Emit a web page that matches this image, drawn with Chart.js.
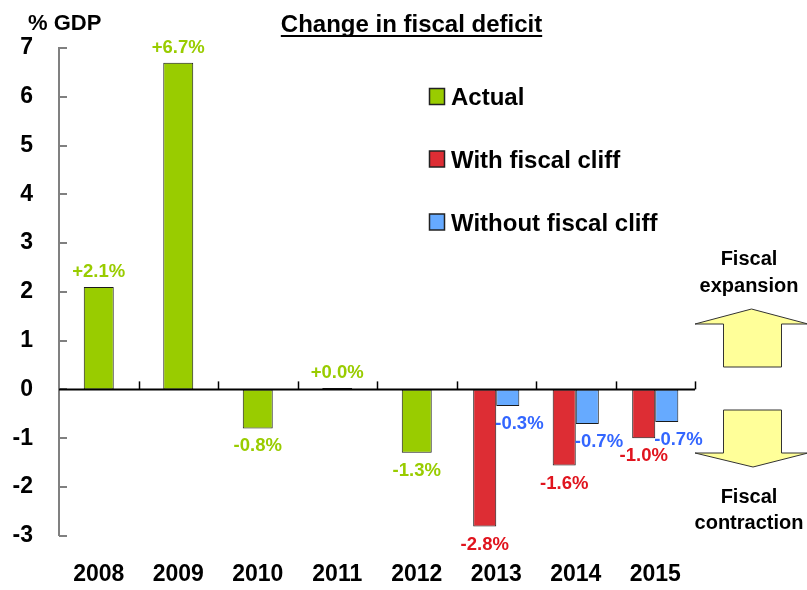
<!DOCTYPE html>
<html>
<head>
<meta charset="utf-8">
<title>Change in fiscal deficit</title>
<script src="https://cdn.jsdelivr.net/npm/chart.js@4/dist/chart.umd.min.js"></script>
<style>
    html, body { margin: 0; padding: 0; background: #ffffff; }
    #wrap { width: 807px; height: 590px; }
</style>
</head>
<body>
<div id="wrap"><canvas id="deficitChart" width="807" height="590"></canvas></div>
<script>
// Change in fiscal deficit, % of GDP
const years = ['2008', '2009', '2010', '2011', '2012', '2013', '2014', '2015'];
const actual = [2.1, 6.7, -0.8, 0.03, -1.3, null, null, null];
const withCliff = [null, null, null, null, null, -2.81, -1.56, -1.0];
const withoutCliff = [null, null, null, null, null, -0.34, -0.71, -0.67];
const yTicks = [7, 6, 5, 4, 3, 2, 1, 0, -1, -2, -3];
const seriesNames = ['Actual', 'With fiscal cliff', 'Without fiscal cliff'];

const FONT = '"Liberation Sans", Arial, Helvetica, sans-serif';

// label colours per dataset (text is a bit darker than the bars)
const labelColors = ['#99cc00', '#e0141e', '#3366ff'];

function fmt(v) {
    return (v >= 0 ? '+' : '') + v.toFixed(1) + '%';
}

// Zero line, tick marks and value labels
const decorPlugin = {
    id: 'decor',
    afterDatasetsDraw(chart) {
        const ctx = chart.ctx;
        const xs = chart.scales.x;
        const ys = chart.scales.y;
        const area = chart.chartArea;
        const y0 = ys.getPixelForValue(0);
        ctx.save();

        // y ticks pointing into the plot
        ctx.strokeStyle = '#808080';
        ctx.lineWidth = 2;
        yTicks.forEach(v => {
            const py = Math.round(ys.getPixelForValue(v));
            ctx.beginPath();
            ctx.moveTo(area.left, py);
            ctx.lineTo(area.left + 8, py);
            ctx.stroke();
        });

        // zero line
        ctx.strokeStyle = '#000000';
        ctx.lineWidth = 2;
        ctx.beginPath();
        ctx.moveTo(area.left, y0);
        ctx.lineTo(area.right, y0);
        ctx.stroke();

        // category dividers, small ticks up from the zero line
        const step = xs.getPixelForValue(1) - xs.getPixelForValue(0);
        ctx.lineWidth = 1.5;
        for (let i = 1; i <= years.length; i++) {
            const px = Math.round(xs.getPixelForValue(i) - step / 2) + 0.5;
            ctx.beginPath();
            ctx.moveTo(px, y0);
            ctx.lineTo(px, y0 - 8);
            ctx.stroke();
        }

        // value labels
        ctx.font = 'bold 18.5px ' + FONT;
        ctx.textBaseline = 'middle';
        chart.data.datasets.forEach((ds, di) => {
            const meta = chart.getDatasetMeta(di);
            meta.data.forEach((bar, i) => {
                const v = ds.data[i];
                if (v === null || v === undefined) return;
                ctx.fillStyle = labelColors[di];
                let tx = bar.x;
                ctx.textAlign = 'center';
                if (di === 2) {
                    // blue labels hang to the right of their bar
                    ctx.textAlign = 'left';
                    tx = bar.x - bar.width / 2 - 1;
                }
                const ty = v >= 0 ? bar.y - 15 : bar.y + 18;
                ctx.fillText(fmt(v), tx, ty);
            });
        });
        ctx.restore();
    },
    afterDraw(chart) {
        const ctx = chart.ctx;
        ctx.save();

        // title, underlined
        ctx.fillStyle = '#000000';
        ctx.font = 'bold 24px ' + FONT;
        ctx.textAlign = 'center';
        ctx.textBaseline = 'alphabetic';
        const title = 'Change in fiscal deficit';
        const tw = ctx.measureText(title).width;
        ctx.fillText(title, 411.5, 31.5);
        ctx.fillRect(411.5 - tw / 2, 35, tw, 2);

        // axis unit
        ctx.font = 'bold 22px ' + FONT;
        ctx.textAlign = 'left';
        ctx.fillText('% GDP', 28, 30);

        // legend
        const legendY = [105, 167.5, 230.5];
        ctx.font = 'bold 24px ' + FONT;
        chart.data.datasets.forEach((ds, di) => {
            const by = legendY[di];
            ctx.fillStyle = ds.backgroundColor;
            ctx.fillRect(429.5, by - 16.5, 15, 16);
            ctx.strokeStyle = '#222222';
            ctx.lineWidth = 1.5;
            ctx.strokeRect(429.5, by - 16.5, 15, 16);
            ctx.fillStyle = '#000000';
            ctx.fillText(seriesNames[di], 451, by);
        });

        // expansion / contraction arrows
        ctx.fillStyle = '#ffff99';
        ctx.strokeStyle = '#333333';
        ctx.lineWidth = 1;
        const up = [[751.5, 309], [808, 324], [781.5, 324], [781.5, 367], [723.5, 367], [723.5, 324], [695, 324]];
        const down = [[723.5, 410], [781.5, 410], [781.5, 453], [808, 453], [753, 467], [695, 453], [723.5, 453]];
        [up, down].forEach(pts => {
            ctx.beginPath();
            pts.forEach((p, k) => (k ? ctx.lineTo(p[0], p[1]) : ctx.moveTo(p[0], p[1])));
            ctx.closePath();
            ctx.fill();
            ctx.stroke();
        });

        ctx.fillStyle = '#000000';
        ctx.font = 'bold 20px ' + FONT;
        ctx.textAlign = 'center';
        ctx.fillText('Fiscal', 749, 265);
        ctx.fillText('expansion', 749, 291.5);
        ctx.fillText('Fiscal', 749, 503);
        ctx.fillText('contraction', 749, 528.5);

        ctx.restore();
    }
};

const ctx = document.getElementById('deficitChart');

new Chart(ctx, {
    type: 'bar',
    data: {
        labels: years,
        datasets: [
            {
                label: seriesNames[0],
                data: actual,
                backgroundColor: '#99cc00',
                borderColor: '#1a1a1a',
                borderWidth: 1,
                borderSkipped: false,
                grouped: false,          // centred on its year, own width
                categoryPercentage: 1,
                barPercentage: 0.377
            },
            {
                label: seriesNames[1],
                data: withCliff,
                backgroundColor: '#dd2d34',
                borderColor: '#1a1a1a',
                borderWidth: 1,
                borderSkipped: false,
                categoryPercentage: 0.58,
                barPercentage: 1
            },
            {
                label: seriesNames[2],
                data: withoutCliff,
                backgroundColor: '#66aaff',
                borderColor: '#1a1a1a',
                borderWidth: 1,
                borderSkipped: false,
                categoryPercentage: 0.58,
                barPercentage: 1
            }
        ]
    },
    plugins: [decorPlugin],
    options: {
        responsive: false,
        animation: false,
        layout: {
            padding: { top: 48, right: 112, left: 0, bottom: 0 }
        },
        plugins: {
            legend: { display: false },
            title: { display: false },
            tooltip: { enabled: false }
        },
        scales: {
            x: {
                type: 'category',
                offset: true,
                grid: { display: false, drawTicks: false },
                border: { display: false },
                ticks: {
                    color: '#000000',
                    autoSkip: false,
                    maxRotation: 0,
                    padding: 25,
                    font: { family: FONT, size: 23, weight: 'bold' }
                },
                afterFit(scale) {
                    scale.height = 54.3;
                }
            },
            y: {
                min: Math.min(...yTicks),
                max: Math.max(...yTicks),
                grid: { display: false, drawTicks: false },
                border: { display: true, color: '#808080', width: 2 },
                ticks: {
                    stepSize: 1,
                    color: '#000000',
                    padding: 26,
                    font: { family: FONT, size: 23, weight: 'bold' }
                },
                afterFit(scale) {
                    scale.width = 59;
                }
            }
        }
    }
});
</script>
</body>
</html>
